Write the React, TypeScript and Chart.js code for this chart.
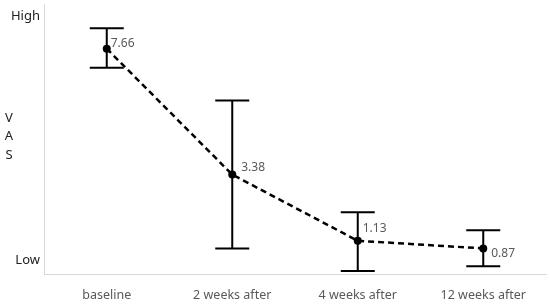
import React, { useEffect, useRef } from "react";
import { Chart, registerables } from "chart.js";

Chart.register(...registerables);

const categories = ["baseline", "2 weeks after", "4 weeks after", "12 weeks after"];
const means = [7.66, 3.38, 1.13, 0.87];
const upper = [8.36, 5.9, 2.1, 1.49];
const lower = [7.01, 0.87, 0.1, 0.26];
const yTickValues = [0.48, 8.77];
const yTickLabels = ["Low", "High"];
const axisTitleLetters = ["V", "A", "S"];

const LABEL_OFFSETS = [
  [4, -5],
  [9, -7],
  [5, -12],
  [8, 5],
];
const FONT = "'Noto Sans', 'Noto Sans CJK KR', sans-serif";

const errorBarPlugin = {
  id: "errorBars",
  afterDatasetsDraw(chart: any) {
    const ctx = chart.ctx;
    const xs = chart.scales.x;
    const ys = chart.scales.y;
    ctx.save();
    ctx.strokeStyle = "#000";
    ctx.lineWidth = 2;
    const half = 17;
    for (let i = 0; i < means.length; i++) {
      const x = xs.getPixelForValue(i);
      const yt = ys.getPixelForValue(upper[i]);
      const yb = ys.getPixelForValue(lower[i]);
      ctx.beginPath();
      ctx.moveTo(x, yt);
      ctx.lineTo(x, yb);
      ctx.moveTo(x - half, yt);
      ctx.lineTo(x + half, yt);
      ctx.moveTo(x - half, yb);
      ctx.lineTo(x + half, yb);
      ctx.stroke();
    }
    ctx.fillStyle = "#595959";
    ctx.font = `12px ${FONT}`;
    ctx.textAlign = "left";
    ctx.textBaseline = "middle";
    for (let i = 0; i < means.length; i++) {
      const x = xs.getPixelForValue(i);
      const y = ys.getPixelForValue(means[i]);
      ctx.fillText(means[i].toFixed(2), x + LABEL_OFFSETS[i][0], y + LABEL_OFFSETS[i][1]);
    }
    ctx.fillStyle = "#222";
    ctx.font = `13px ${FONT}`;
    ctx.textAlign = "center";
    axisTitleLetters.forEach((ch, k) => {
      ctx.fillText(ch, 9, 118 + k * 18.5);
    });
    ctx.restore();
  },
};

export default function App() {
  const ref = useRef<HTMLCanvasElement>(null);
  useEffect(() => {
    document.body.style.margin = "0";
    const chart = new Chart(ref.current!, {
      type: "line",
      data: {
        labels: categories,
        datasets: [
          {
            data: means,
            borderColor: "#000",
            backgroundColor: "#000",
            borderWidth: 2.5,
            borderDash: [6, 4],
            pointRadius: 4,
            pointBackgroundColor: "#000",
            pointBorderWidth: 0,
            tension: 0,
          },
        ],
      },
      options: {
        animation: false,
        responsive: false,
        maintainAspectRatio: false,
        layout: { padding: { left: 0, right: 4, top: 0, bottom: 0 } },
        plugins: { legend: { display: false }, tooltip: { enabled: false } },
        scales: {
          x: {
            offset: true,
            grid: { display: false, drawTicks: false },
            border: { display: true, color: "#d9d9d9", width: 1 },
            ticks: {
              color: "#595959",
              font: { family: FONT, size: 12.5 },
              padding: 14,
              maxRotation: 0,
            },
            afterFit(s: any) {
              s.height = 31;
            },
          },
          y: {
            min: 0,
            max: 9.17,
            grid: { display: false, drawTicks: false },
            border: { display: true, color: "#d9d9d9", width: 1 },
            afterBuildTicks(s: any) {
              s.ticks = yTickValues.map((v) => ({ value: v }));
            },
            ticks: {
              color: "#222",
              font: { family: FONT, size: 13, lineHeight: 0.05 },
              padding: 4,
              callback(v: any) {
                const idx = yTickValues.indexOf(Number(v));
                return idx >= 0 ? yTickLabels[idx] : "";
              },
            },
            afterFit(s: any) {
              s.width = 44;
            },
          },
        },
      },
      plugins: [errorBarPlugin],
    });
    return () => chart.destroy();
  }, []);
  return (
    <div style={{ width: 550, height: 305 }}>
      <canvas ref={ref} width={550} height={305} style={{ display: "block" }} />
    </div>
  );
}
